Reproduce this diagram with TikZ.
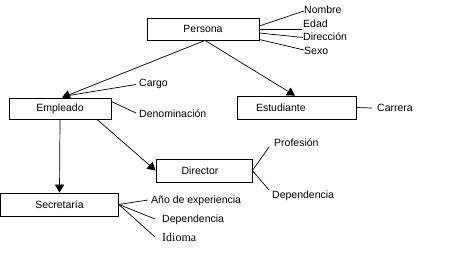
\documentclass[tikz,border=0pt]{standalone}
\usepackage{fontspec}
\setmainfont{Liberation Sans}
\newfontfamily\seriffont{Liberation Serif}
\usetikzlibrary{arrows.meta,calc}
\begin{document}
\begin{tikzpicture}[x=1pt,y=-1pt,
  every node/.style={font=\fontsize{10.5}{12}\selectfont},
  entbox/.style={draw,line width=0.8pt,rectangle,inner sep=0pt},
  attr/.style={anchor=west,inner sep=1pt},
  ln/.style={line width=0.7pt},
  arr/.style={line width=0.7pt,-{Triangle[length=8pt,width=9pt]}}]
\useasboundingbox (0,0) rectangle (450,256);
% entities
\node[entbox,minimum width=112pt,minimum height=22pt] (persona) at (203,29) {Persona};
\node[entbox,minimum width=102pt,minimum height=21pt] (empleado) at (60,108.5) {Empleado};
\node[entbox,minimum width=119pt,minimum height=23pt,text width=119pt,align=left] (estudiante) at (296.5,107.5) {\hspace*{19pt}Estudiante};
\node[entbox,minimum width=96pt,minimum height=23pt] (director) at (204,170.5) {\hspace*{-8pt}Director};
\node[entbox,minimum width=118pt,minimum height=23pt] (secretaria) at (59.5,204.5) {Secretaría};
% attributes
\node[attr] (nombre) at (303,10) {Nombre};
\node[attr] (edad) at (302,23.5) {Edad};
\node[attr] (direccion) at (302,37) {Dirección};
\node[attr] (sexo) at (303,51) {Sexo};
\node[attr] (cargo) at (138,83.5) {Cargo};
\node[attr] (denominacion) at (138,114) {Denominación};
\node[attr] (carrera) at (376,108) {Carrera};
\node[attr] (profesion) at (273,143) {Profesión};
\node[attr] (dependenciaD) at (271,196) {Dependencia};
\node[attr] (anio) at (150,201) {Año de experiencia};
\node[attr] (dependenciaS) at (161,220) {Dependencia};
\node[attr,font=\seriffont\fontsize{12}{14}\selectfont] (idioma) at (161,237) {Idioma};
% hierarchy connectors
\draw[arr] ($(persona.south)+(2,0)$) -- ($(empleado.north)+(2,0)$);
\draw[arr] ($(persona.south)+(2,0)$) -- ($(estudiante.north)+(-1.5,0)$);
\draw[arr] (empleado.south) -- (secretaria.north);
\draw[arr] ($(empleado.south)+(37,0)$) -- (director.west);
% attribute connectors
\draw[ln] ($(persona.east)+(0,-3)$) -- ($(nombre.west)+(1,1)$);
\draw[ln] (persona.east) -- ($(edad.west)+(0,5.5)$);
\draw[ln] ($(persona.east)+(0,4)$) -- ($(direccion.west)+(1,0.5)$);
\draw[ln] ($(persona.east)+(0,10.5)$) -- ($(sexo.west)+(1,-1)$);
\draw[ln] ($(empleado.north)+(5,-1.5)$) -- ($(cargo.west)+(-2,1)$);
\draw[ln] ($(empleado.east)+(0,-7)$) -- ($(denominacion.west)+(-2,-1)$);
\draw[ln] (estudiante.east) -- ($(carrera.west)+(-4,0)$);
\draw[ln] (director.east) -- ($(profesion.west)+(-4,4)$);
\draw[ln] (director.east) -- ($(dependenciaD.west)+(-2,-6)$);
\draw[ln] (secretaria.east) -- ($(anio.west)+(-2,-1)$);
\draw[ln] (secretaria.east) -- ($(dependenciaS.west)+(-6,-1)$);
\draw[ln] (secretaria.east) -- ($(idioma.west)+(-6,0)$);
\end{tikzpicture}
\end{document}
